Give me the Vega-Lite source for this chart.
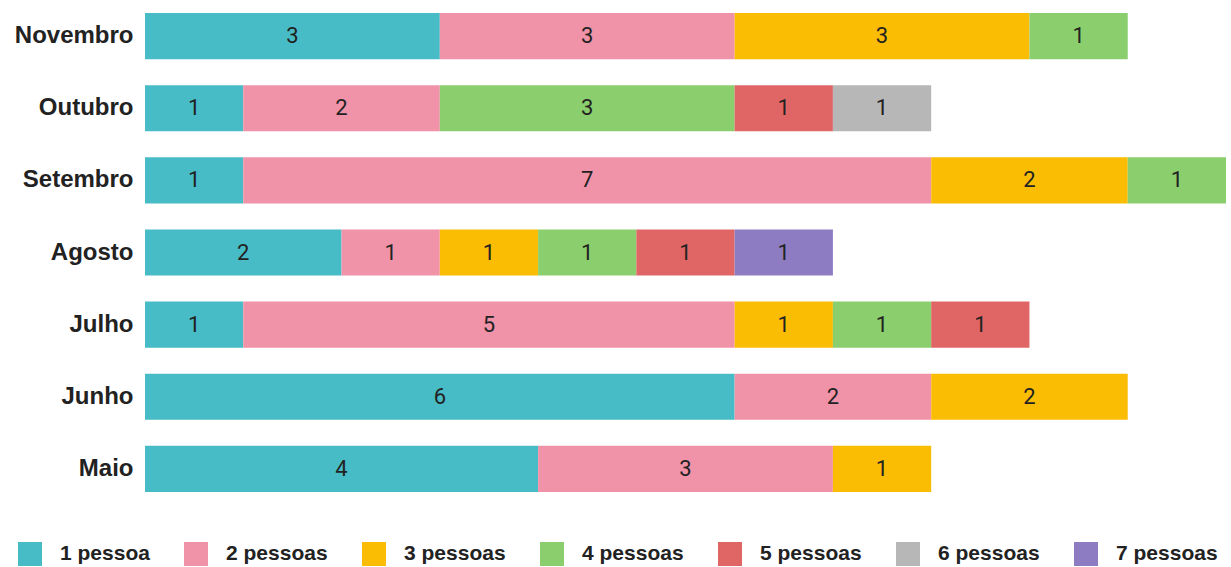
{
  "$schema": "https://vega.github.io/schema/vega-lite/v6.json",
  "width": 1081,
  "height": 505,
  "autosize": {"type": "none"},
  "padding": {"left": 145, "top": 0, "right": 5, "bottom": 62},
  "background": "white",
  "config": {"view": {"stroke": null}},
  "data": {
    "values": [
      {"mes": "Novembro", "categoria": "1 pessoa", "ordem": 1, "valor": 3},
      {"mes": "Novembro", "categoria": "2 pessoas", "ordem": 2, "valor": 3},
      {"mes": "Novembro", "categoria": "3 pessoas", "ordem": 3, "valor": 3},
      {"mes": "Novembro", "categoria": "4 pessoas", "ordem": 4, "valor": 1},
      {"mes": "Outubro", "categoria": "1 pessoa", "ordem": 1, "valor": 1},
      {"mes": "Outubro", "categoria": "2 pessoas", "ordem": 2, "valor": 2},
      {"mes": "Outubro", "categoria": "4 pessoas", "ordem": 4, "valor": 3},
      {"mes": "Outubro", "categoria": "5 pessoas", "ordem": 5, "valor": 1},
      {"mes": "Outubro", "categoria": "6 pessoas", "ordem": 6, "valor": 1},
      {"mes": "Setembro", "categoria": "1 pessoa", "ordem": 1, "valor": 1},
      {"mes": "Setembro", "categoria": "2 pessoas", "ordem": 2, "valor": 7},
      {"mes": "Setembro", "categoria": "3 pessoas", "ordem": 3, "valor": 2},
      {"mes": "Setembro", "categoria": "4 pessoas", "ordem": 4, "valor": 1},
      {"mes": "Agosto", "categoria": "1 pessoa", "ordem": 1, "valor": 2},
      {"mes": "Agosto", "categoria": "2 pessoas", "ordem": 2, "valor": 1},
      {"mes": "Agosto", "categoria": "3 pessoas", "ordem": 3, "valor": 1},
      {"mes": "Agosto", "categoria": "4 pessoas", "ordem": 4, "valor": 1},
      {"mes": "Agosto", "categoria": "5 pessoas", "ordem": 5, "valor": 1},
      {"mes": "Agosto", "categoria": "7 pessoas", "ordem": 7, "valor": 1},
      {"mes": "Julho", "categoria": "1 pessoa", "ordem": 1, "valor": 1},
      {"mes": "Julho", "categoria": "2 pessoas", "ordem": 2, "valor": 5},
      {"mes": "Julho", "categoria": "3 pessoas", "ordem": 3, "valor": 1},
      {"mes": "Julho", "categoria": "4 pessoas", "ordem": 4, "valor": 1},
      {"mes": "Julho", "categoria": "5 pessoas", "ordem": 5, "valor": 1},
      {"mes": "Junho", "categoria": "1 pessoa", "ordem": 1, "valor": 6},
      {"mes": "Junho", "categoria": "2 pessoas", "ordem": 2, "valor": 2},
      {"mes": "Junho", "categoria": "3 pessoas", "ordem": 3, "valor": 2},
      {"mes": "Maio", "categoria": "1 pessoa", "ordem": 1, "valor": 4},
      {"mes": "Maio", "categoria": "2 pessoas", "ordem": 2, "valor": 3},
      {"mes": "Maio", "categoria": "3 pessoas", "ordem": 3, "valor": 1}
    ]
  },
  "transform": [
    {"stack": "valor", "groupby": ["mes"], "sort": [{"field": "ordem", "order": "ascending"}], "as": ["x0", "x1"]},
    {"calculate": "(datum.x0 + datum.x1) / 2", "as": "xm"}
  ],
  "encoding": {
    "y": {
      "field": "mes",
      "type": "nominal",
      "sort": ["Novembro", "Outubro", "Setembro", "Agosto", "Julho", "Junho", "Maio"],
      "scale": {"paddingInner": 0.36, "paddingOuter": 0.18},
      "axis": {
        "title": null,
        "domain": false,
        "ticks": false,
        "labelPadding": 12,
        "labelFont": "Liberation Sans",
        "labelFontWeight": "bold",
        "labelFontSize": 24,
        "labelColor": "#222222"
      }
    }
  },
  "layer": [
    {
      "mark": {"type": "bar"},
      "encoding": {
        "x": {
          "field": "x0",
          "type": "quantitative",
          "scale": {"domain": [0, 11], "nice": false, "zero": true},
          "axis": null
        },
        "x2": {"field": "x1"},
        "color": {
          "field": "categoria",
          "type": "nominal",
          "scale": {
            "domain": ["1 pessoa", "2 pessoas", "3 pessoas", "4 pessoas", "5 pessoas", "6 pessoas", "7 pessoas"],
            "range": ["#47BCC6", "#F092A8", "#FBBC04", "#8BCE6D", "#E06666", "#B7B7B7", "#8E7CC3"]
          },
          "legend": {
            "title": null,
            "orient": "none",
            "direction": "horizontal",
            "columns": 7,
            "legendX": -127,
            "legendY": 542,
            "padding": 0,
            "symbolType": "square",
            "symbolSize": 576,
            "symbolStrokeWidth": 0,
            "symbolOpacity": 1,
            "labelOffset": 18,
            "columnPadding": 34,
            "labelFont": "Liberation Sans",
            "labelFontWeight": "bold",
            "labelFontSize": 21,
            "labelColor": "#222222",
            "labelLimit": 300
          }
        }
      }
    },
    {
      "mark": {"type": "text", "font": "Roboto", "fontSize": 22, "color": "#222222", "baseline": "middle", "align": "center"},
      "encoding": {
        "x": {"field": "xm", "type": "quantitative"},
        "text": {"field": "valor", "type": "quantitative"}
      }
    }
  ]
}
